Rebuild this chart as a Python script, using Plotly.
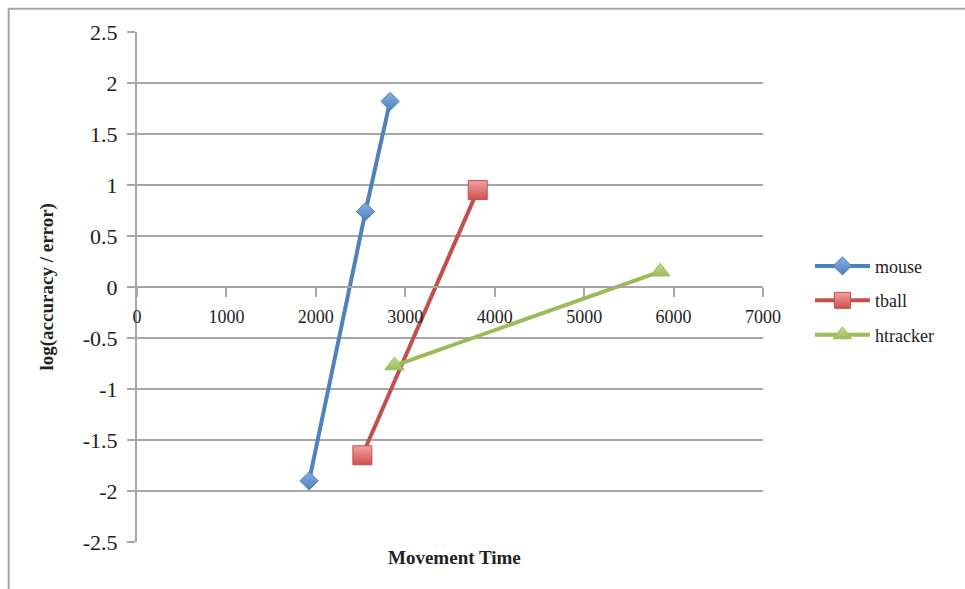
import plotly.graph_objects as go

# Movement time vs. log(accuracy / error) for three input devices
mouse_x = [1925, 2555, 2830]
mouse_y = [-1.90, 0.74, 1.82]
tball_x = [2520, 3810]
tball_y = [-1.65, 0.95]
htracker_x = [2880, 5850]
htracker_y = [-0.77, 0.15]

x_ticks = [0, 1000, 2000, 3000, 4000, 5000, 6000, 7000]
y_ticks = [-2.5, -2, -1.5, -1, -0.5, 0, 0.5, 1, 1.5, 2, 2.5]
y_tick_text = ["-2.5", "-2", "-1.5", "-1", "-0.5", "0", "0.5", "1", "1.5", "2", "2.5"]

FONT = "Liberation Serif"
GRID = "#a6a6a6"

fig = go.Figure()

fig.add_trace(go.Scatter(
    x=mouse_x, y=mouse_y, name="mouse", mode="lines+markers", legendgroup="a",
    line=dict(color="#4f81bd", width=4),
    marker=dict(symbol="diamond", size=14, color="#86aee0",
                gradient=dict(type="vertical", color="#4f81bd"),
                line=dict(color="#4f81bd", width=1)),
))
fig.add_trace(go.Scatter(
    x=tball_x, y=tball_y, name="tball", mode="lines+markers", legendgroup="b",
    line=dict(color="#c0504d", width=4),
    marker=dict(symbol="square", size=19, color="#f0a3a1",
                gradient=dict(type="vertical", color="#d0504d"),
                line=dict(color="#c0504d", width=1)),
))
fig.add_trace(go.Scatter(
    x=htracker_x, y=htracker_y, name="htracker", mode="lines+markers", legendgroup="c",
    line=dict(color="#9bbb59", width=4),
    marker=dict(symbol="triangle-up", size=17, color="#c3dc92",
                gradient=dict(type="vertical", color="#9bbb59"),
                line=dict(color="#9bbb59", width=1)),
))

fig.update_layout(
    width=965, height=589,
    margin=dict(l=137, r=202, t=32, b=47),
    paper_bgcolor="white", plot_bgcolor="white",
    font=dict(family=FONT, color="#222222"),
    showlegend=True,
    legend=dict(x=1.075, y=0.577, xanchor="left", yanchor="top",
                font=dict(family=FONT, size=18, color="#222222"),
                itemwidth=55, tracegroupgap=8, bgcolor="rgba(0,0,0,0)"),
    xaxis=dict(
        range=[0, 7000], tickvals=x_ticks, ticktext=[str(v) for v in x_ticks],
        showgrid=False, zeroline=False,
        showline=True, linecolor=GRID, linewidth=2,
        ticks="outside", ticklen=9, tickwidth=2, tickcolor=GRID,
        anchor="free", position=0.5,
        tickfont=dict(family=FONT, size=18, color="#222222"),
        ticklabelstandoff=4,
    ),
    yaxis=dict(
        range=[-2.5, 2.5], tickvals=y_ticks, ticktext=y_tick_text,
        showgrid=True, gridcolor=GRID, gridwidth=2, zeroline=False,
        showline=True, linecolor=GRID, linewidth=2,
        ticks="outside", ticklen=8, tickwidth=2, tickcolor=GRID,
        tickfont=dict(family=FONT, size=22, color="#222222"),
        ticklabelstandoff=5,
    ),
    annotations=[
        dict(text="<b>Movement Time</b>", xref="paper", yref="paper",
             x=0.5065, y=-0.0305, xanchor="center", yanchor="middle",
             showarrow=False, font=dict(family=FONT, size=19, color="#222222")),
        dict(text="<b>log(accuracy / error)</b>", xref="paper", yref="paper",
             x=-0.143, y=0.5, xanchor="center", yanchor="middle", textangle=-90,
             showarrow=False, font=dict(family=FONT, size=19, color="#222222")),
    ],
    shapes=[
        dict(type="rect", xref="paper", yref="paper",
             x0=-0.205, x1=1.45, y0=-0.2, y1=1.0454,
             line=dict(color=GRID, width=2), layer="below"),
    ],
)

fig.write_html("out.html")
